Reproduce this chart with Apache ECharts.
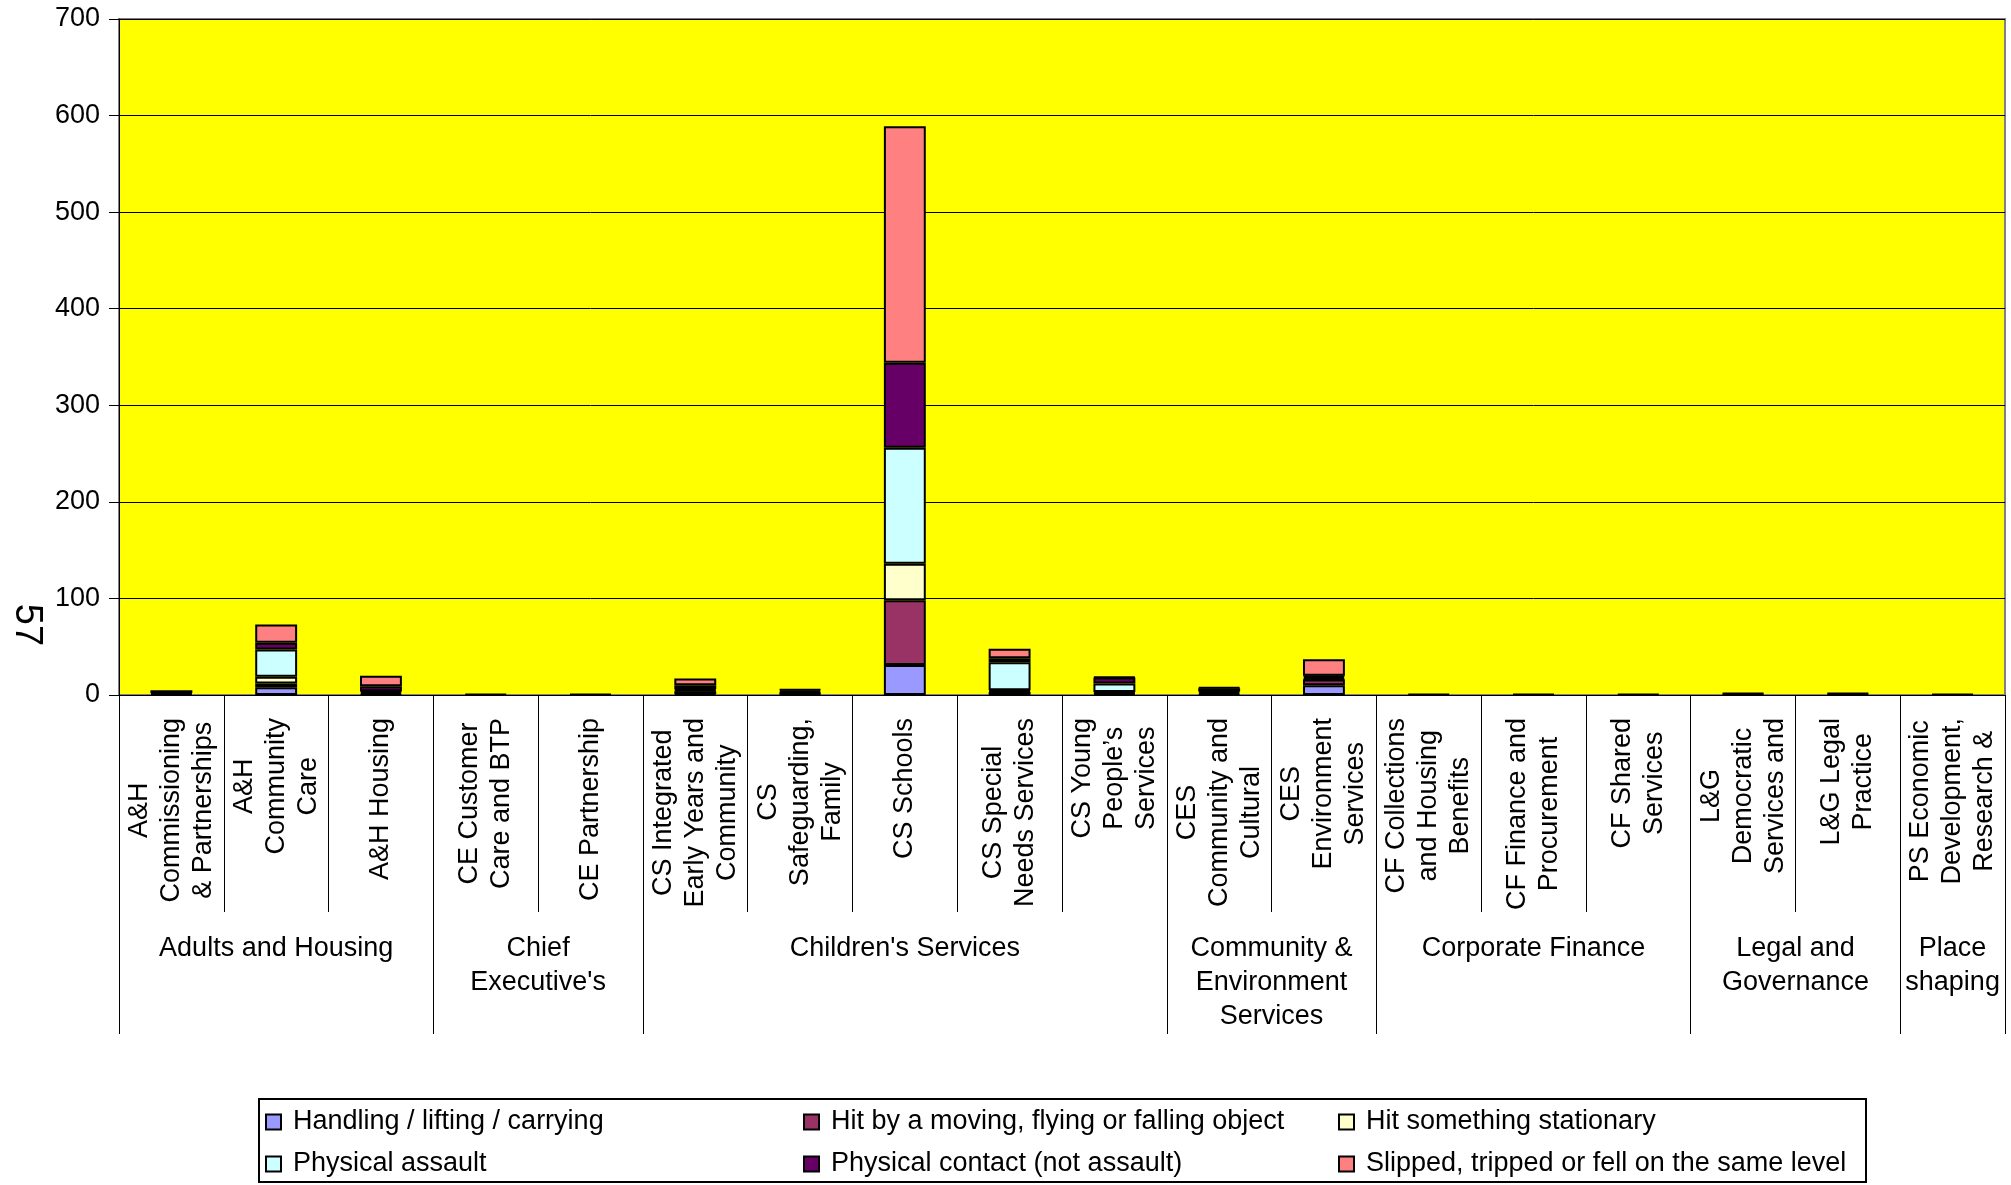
<!DOCTYPE html>
<html>
<head>
<meta charset="utf-8">
<title>Accidents by service area</title>
<script src="https://cdn.jsdelivr.net/npm/echarts@6/dist/echarts.min.js"></script>
<style>
  html, body { margin: 0; padding: 0; background: #ffffff; }
  #chart { width: 2011px; height: 1185px; }
</style>
</head>
<body>
<div id="chart"></div>
<script>
// Service areas (bottom axis), line breaks as the labels wrap
const categories = [
  'A&H\nCommissioning\n& Partnerships',
  'A&H\nCommunity\nCare',
  'A&H Housing',
  'CE Customer\nCare and BTP',
  'CE Partnership',
  'CS Integrated\nEarly Years and\nCommunity',
  'CS\nSafeguarding,\nFamily',
  'CS Schools',
  'CS Special\nNeeds Services',
  'CS Young\nPeople\u2019s\nServices',
  'CES\nCommunity and\nCultural',
  'CES\nEnvironment\nServices',
  'CF Collections\nand Housing\nBenefits',
  'CF Finance and\nProcurement',
  'CF Shared\nServices',
  'L&G\nDemocratic\nServices and',
  'L&G Legal\nPractice',
  'PS Economic\nDevelopment,\nResearch &'
];

// Directorates and the category index where each one starts / ends
const groupNames = [
  'Adults and Housing',
  'Chief\nExecutive\'s',
  'Children\'s Services',
  'Community &\nEnvironment\nServices',
  'Corporate Finance',
  'Legal and\nGovernance',
  'Place\nshaping'
];
const groupBounds = [0, 3, 5, 10, 12, 15, 17, 18];

// Accident type names
const seriesNames = [
  'Handling / lifting / carrying',
  'Hit by a moving, flying or falling object',
  'Hit something stationary',
  'Physical assault',
  'Physical contact (not assault)',
  'Slipped, tripped or fell on the same level'
];

// Counts per service area for each accident type
const handling   = [0, 8, 1, 0, 0, 1, 1, 31, 3, 1, 1, 10, 0, 0, 0, 1, 1, 0];
const hitMoving  = [1, 4, 2, 0, 0, 3, 1, 67, 1, 1, 2, 6, 0, 0, 0, 0, 0, 0];
const stationary = [0, 7, 0, 0, 0, 1, 1, 38, 1, 1, 0, 1, 0, 0, 0, 0, 0, 0];
const assault    = [0, 28, 1, 0, 0, 1, 2, 120, 29, 9, 1, 2, 0, 0, 0, 0, 0, 0];
const contact    = [1, 7, 5, 1, 1, 4, 1, 88, 4, 6, 3, 1, 1, 1, 1, 1, 1, 1];
const slipped    = [3, 19, 11, 0, 0, 7, 0, 245, 10, 1, 1, 17, 0, 0, 0, 0, 0, 0];

// Value axis ticks
const yTicks = [0, 100, 200, 300, 400, 500, 600, 700];

const seriesValues = [handling, hitMoving, stationary, assault, contact, slipped];
const seriesColors = ['#9999FF', '#993366', '#FFFFCC', '#CCFFFF', '#660066', '#FF8080'];

const FONT = '"Liberation Sans", Arial, sans-serif';

const chart = echarts.init(document.getElementById('chart'), null, { renderer: 'canvas' });

// Group label centres on a 0..N scale spanning the categories
const groupCentres = groupNames.map((_, i) => (groupBounds[i] + groupBounds[i + 1]) / 2);

const series = seriesValues.map((vals, i) => ({
  name: seriesNames[i],
  type: 'bar',
  stack: 'total',
  xAxisIndex: 0,
  yAxisIndex: 0,
  barCategoryGap: '60%',
  itemStyle: { color: seriesColors[i], borderColor: '#000000', borderWidth: 2 },
  emphasis: { disabled: true },
  data: vals.map(v => (v === 0 ? '-' : v))
}));

// One legend column per pair of accident types
const legendColumn = (items, left) => ({
  orient: 'vertical',
  left: left,
  top: 1107,
  height: 78,
  padding: 0,
  data: items,
  icon: 'rect',
  itemWidth: 15,
  itemHeight: 15,
  itemGap: 12,
  selectedMode: false,
  textStyle: { fontFamily: FONT, fontSize: 27, color: '#000', lineHeight: 30, padding: [0, 0, 0, 7] }
});

chart.setOption({
  animation: false,
  backgroundColor: '#ffffff',
  grid: {
    left: 119, right: 6, top: 19, bottom: 490,
    show: true,
    backgroundColor: '#FFFF00',
    borderColor: '#808080',
    borderWidth: 2
  },
  legend: [
    legendColumn([seriesNames[0], seriesNames[3]], 265),
    legendColumn([seriesNames[1], seriesNames[4]], 803),
    legendColumn([seriesNames[2], seriesNames[5]], 1338)
  ],
  xAxis: [
    {
      type: 'category',
      data: categories,
      position: 'bottom',
      axisLine: { show: true, lineStyle: { color: '#000', width: 1 } },
      axisTick: { show: true, interval: 0, length: 217, lineStyle: { color: '#000', width: 1 } },
      axisLabel: {
        interval: 0,
        rotate: 90,
        margin: 23,
        color: '#000',
        fontFamily: FONT,
        fontSize: 27,
        formatter: v => v.split('\n').map(l => '{c|' + l + '}').join('\n'),
        rich: { c: { align: 'center', fontFamily: FONT, fontSize: 27, lineHeight: 32, color: '#000' } }
      },
      splitLine: { show: false }
    },
    {
      type: 'value',
      min: 0,
      max: categories.length,
      position: 'bottom',
      axisLine: { show: false },
      axisTick: {
        show: true,
        customValues: groupBounds,
        length: 339,
        lineStyle: { color: '#000', width: 1 }
      },
      axisLabel: {
        show: true,
        customValues: groupCentres,
        margin: 237,
        color: '#000',
        fontFamily: FONT,
        fontSize: 27,
        lineHeight: 34,
        formatter: v => {
          const i = groupCentres.indexOf(v);
          return i >= 0 ? groupNames[i] : '';
        }
      },
      splitLine: { show: false }
    }
  ],
  yAxis: {
    type: 'value',
    min: yTicks[0],
    max: yTicks[yTicks.length - 1],
    interval: 100,
    axisLine: { show: true, lineStyle: { color: '#000', width: 1 } },
    axisTick: { show: true, length: 10, lineStyle: { color: '#000' } },
    axisLabel: { margin: 19, color: '#000', fontFamily: FONT, fontSize: 27 },
    splitLine: { show: true, lineStyle: { color: '#000', width: 1 } }
  },
  graphic: [
    {
      type: 'rect',
      shape: { x: 259, y: 1099, width: 1607, height: 83 },
      style: { fill: 'none', stroke: '#000', lineWidth: 2 },
      silent: true
    },
    {
      type: 'text',
      x: 26,
      y: 625,
      rotation: -Math.PI / 2,
      style: { text: '57', fontFamily: FONT, fontSize: 38, fill: '#000', align: 'center', verticalAlign: 'middle' },
      silent: true
    }
  ],
  series: series
});
</script>
</body>
</html>
